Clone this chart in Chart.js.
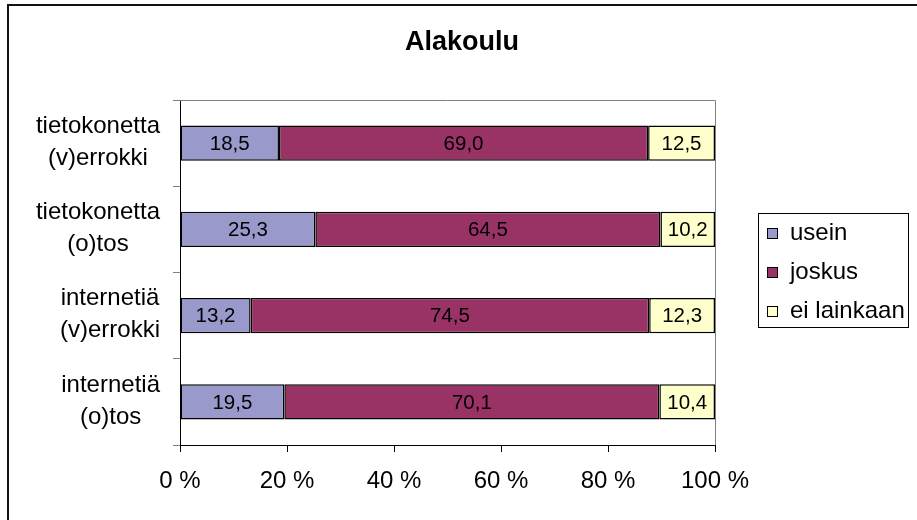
<!DOCTYPE html>
<html><head><meta charset="utf-8">
<script src="https://cdn.jsdelivr.net/npm/chart.js@4/dist/chart.umd.min.js"></script>
<style>html,body{margin:0;padding:0;background:#fff}#wrap{width:917px;height:520px;position:relative}</style>
</head><body><div id="wrap"><canvas id="c" width="917" height="520"></canvas></div>
<script>
const chartTitle = 'Alakoulu';
const categories = [['tietokonetta','(v)errokki'],['tietokonetta','(o)tos'],['internetiä','(v)errokki'],['internetiä','(o)tos']];
const seriesNames = ['usein','joskus','ei lainkaan'];
const usein = [18.5, 25.3, 13.2, 19.5];
const joskus = [69.0, 64.5, 74.5, 70.1];
const eiLainkaan = [12.5, 10.2, 12.3, 10.4];
const xTickLabels = ['0 %','20 %','40 %','60 %','80 %','100 %'];
const seriesColors = ['#9999CC','#993366','#FFFFCC'];

const FONT = "'Liberation Sans', Arial, sans-serif";

const decor = {
  id: 'decor',
  beforeDraw(chart) {
    const ctx = chart.ctx;
    ctx.save();
    ctx.fillStyle = '#fff';
    ctx.fillRect(0, 0, chart.width, chart.height);
    ctx.restore();
  },
  beforeDatasetsDraw(chart) {
    const ctx = chart.ctx, a = chart.chartArea;
    ctx.save();
    ctx.strokeStyle = '#808080';
    ctx.lineWidth = 1;
    ctx.beginPath();
    ctx.moveTo(a.left, Math.round(a.top) + 0.5);
    ctx.lineTo(Math.round(a.right) + 0.5, Math.round(a.top) + 0.5);
    ctx.lineTo(Math.round(a.right) + 0.5, a.bottom);
    ctx.stroke();
    ctx.restore();
  },
  afterDraw(chart) {
    const ctx = chart.ctx;
    ctx.save();
    // data labels
    ctx.fillStyle = '#000';
    ctx.font = '20.5px ' + FONT;
    ctx.textAlign = 'center';
    ctx.textBaseline = 'middle';
    chart.data.datasets.forEach((ds, di) => {
      const meta = chart.getDatasetMeta(di);
      meta.data.forEach((el, i) => {
        const cx = (el.x + el.base) / 2;
        ctx.fillText(ds.data[i].toFixed(1).replace('.', ','), cx, el.y + 1);
      });
    });
    // category labels
    const ys = chart.scales.y;
    ctx.font = '24px ' + FONT;
    const rightEdge = chart.chartArea.left - 20;
    categories.forEach((lines, i) => {
      const yc = ys.getPixelForValue(i);
      let w = 0;
      lines.forEach(l => { w = Math.max(w, ctx.measureText(l).width); });
      const cx = rightEdge - w / 2;
      lines.forEach((l, j) => {
        ctx.fillText(l, cx, yc + (j - (lines.length - 1) / 2) * 32 - 1);
      });
    });
    // title
    ctx.font = 'bold 27px ' + FONT;
    ctx.fillText(chartTitle, 462, 43);
    // legend
    const lx = 758, ly = 213, lw = 150, lh = 114;
    ctx.strokeStyle = '#000';
    ctx.lineWidth = 1;
    ctx.strokeRect(lx + 0.5, ly + 0.5, lw, lh);
    ctx.font = '24px ' + FONT;
    ctx.textAlign = 'left';
    const rows = [233, 272, 311];
    seriesNames.forEach((n, i) => {
      ctx.fillStyle = seriesColors[i];
      ctx.fillRect(767, rows[i] - 5, 11, 11);
      ctx.strokeRect(767.5, rows[i] - 4.5, 10, 10);
      ctx.fillStyle = '#000';
      ctx.fillText(n, 790, rows[i]);
    });
    // outer frame (left and top)
    ctx.fillStyle = '#111';
    ctx.fillRect(7, 4, 2, chart.height - 4);
    ctx.fillRect(7, 4, chart.width - 7, 2);
    ctx.restore();
  }
};

const values = [usein, joskus, eiLainkaan];
new Chart(document.getElementById('c'), {
  type: 'bar',
  data: {
    labels: categories,
    datasets: seriesNames.map((n, i) => ({
      label: n,
      data: values[i],
      backgroundColor: seriesColors[i],
      borderColor: '#000',
      borderWidth: 1.5,
      borderSkipped: false,
      barPercentage: 0.406,
      categoryPercentage: 1
    }))
  },
  options: {
    indexAxis: 'y',
    responsive: false,
    animation: false,
    devicePixelRatio: 1,
    layout: { padding: { top: 100, right: 202, bottom: 0, left: 0 } },
    plugins: { legend: { display: false }, title: { display: false }, tooltip: { enabled: false } },
    scales: {
      x: {
        stacked: true, min: 0, max: 100,
        ticks: { stepSize: 20, color: '#000', font: { family: FONT, size: 24 }, padding: 15,
          callback: (v, i) => xTickLabels[i] },
        grid: { drawOnChartArea: false, drawTicks: true, tickLength: 7, color: '#000' },
        border: { color: '#000', width: 1 },
        afterFit(s) { s.height = 75; }
      },
      y: {
        stacked: true,
        ticks: { display: false },
        grid: { offset: true, drawOnChartArea: false, drawTicks: true, tickLength: 7, color: '#808080' },
        border: { color: '#000', width: 1 },
        afterFit(s) { s.width = 180; }
      }
    }
  },
  plugins: [decor]
});
</script>
</body></html>
